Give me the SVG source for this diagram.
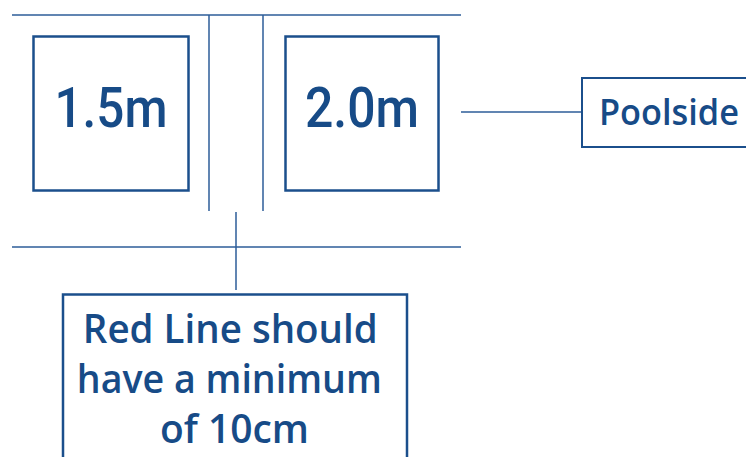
<svg xmlns="http://www.w3.org/2000/svg" width="746" height="457" viewBox="0 0 746 457">
<style>
.ln{stroke:#2c5d98;stroke-width:1.5;fill:none}
.bx{stroke:#1b4f8c;stroke-width:2.5;fill:#fff}
.bx2{stroke:#1b4f8c;stroke-width:2;fill:#fff}
.big{font-family:Roboto,"Liberation Sans",sans-serif;font-weight:500;font-size:55px;fill:#174b87}
.lbl{font-family:"Open Sans","DejaVu Sans",sans-serif;font-weight:600;fill:#174b87}
</style>
<rect width="746" height="457" fill="#fff"/>
<g id="connectors">
<line class="ln" x1="12" y1="15" x2="461" y2="15"/>
<line class="ln" x1="12" y1="247" x2="461" y2="247"/>
<line class="ln" x1="209" y1="15" x2="209" y2="211"/>
<line class="ln" x1="263" y1="15" x2="263" y2="211"/>
<line class="ln" x1="236" y1="212" x2="236" y2="290"/>
<line class="ln" x1="461" y1="112" x2="582" y2="112"/>
</g>
<g id="box15">
<rect class="bx" x="33.5" y="36.5" width="155" height="154"/>
<text class="big" x="111" y="127" text-anchor="middle" textLength="113" lengthAdjust="spacingAndGlyphs">1.5m</text>
</g>
<g id="box20">
<rect class="bx" x="285.5" y="36.5" width="153" height="154"/>
<text class="big" x="362" y="127" text-anchor="middle" textLength="114" lengthAdjust="spacingAndGlyphs">2.0m</text>
</g>
<g id="poolside">
<rect class="bx2" x="582" y="78" width="180" height="69"/>
<text class="lbl" x="599" y="125" font-size="36" textLength="140" lengthAdjust="spacingAndGlyphs">Poolside</text>
</g>
<g id="note">
<rect class="bx" x="63" y="294.5" width="344" height="180"/>
<text class="lbl" font-size="40" text-anchor="middle">
<tspan x="235.5" y="343" textLength="295" lengthAdjust="spacingAndGlyphs">Red Line should</tspan>
<tspan x="234.5" y="393" textLength="305" lengthAdjust="spacingAndGlyphs">have a minimum</tspan>
<tspan x="234.5" y="443" textLength="149" lengthAdjust="spacingAndGlyphs">of 10cm</tspan>
</text>
</g>
</svg>
